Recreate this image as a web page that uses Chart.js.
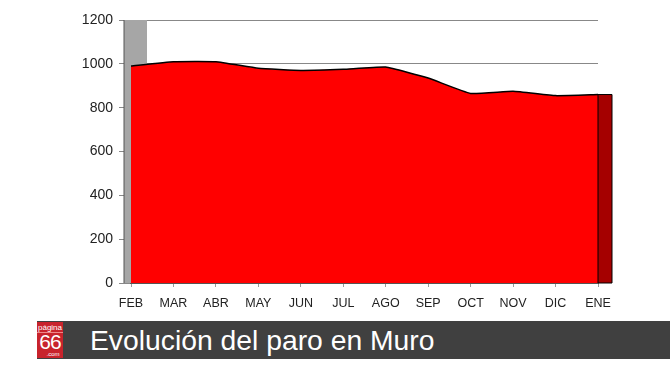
<!DOCTYPE html>
<html>
<head>
<meta charset="utf-8">
<script src="https://cdn.jsdelivr.net/npm/chart.js@4/dist/chart.umd.min.js"></script>
<style>
  html, body { margin: 0; padding: 0; background: #fff; }
  body { width: 670px; height: 377px; position: relative; overflow: hidden; font-family: "Liberation Sans", Arial, sans-serif; }
  #wrap { position: absolute; left: 0; top: 0; width: 670px; height: 320px; }
  #bar { position: absolute; left: 37px; top: 321px; width: 633px; height: 38px; background: #404040; }
  #logo { position: absolute; left: 0; top: 1px; width: 26px; height: 36px; background: #c8232c; color: #fff; text-align: center; }
  #logo .p { position: absolute; top: 1px; left: 0; width: 26px; font-size: 8px; line-height: 9px; border-bottom: 1px solid #e88; }
  #logo .n { position: absolute; top: 9px; left: 0; width: 26px; font-size: 21px; line-height: 21px; letter-spacing: -1px; }
  #logo .c { position: absolute; top: 29px; left: 6px; width: 20px; font-size: 6px; line-height: 6px; }
  #title { position: absolute; left: 53px; top: 2px; color: #fff; font-size: 28.3px; line-height: 34px; }
</style>
</head>
<body>
<div id="wrap"><canvas id="paro"></canvas></div>
<div id="bar">
  <div id="logo"><span class="p">página</span><span class="n">66</span><span class="c">.com</span></div>
  <div id="title">Evolución del paro en Muro</div>
</div>
<script>
const MONTHS = ['FEB', 'MAR', 'ABR', 'MAY', 'JUN', 'JUL', 'AGO', 'SEP', 'OCT', 'NOV', 'DIC', 'ENE']
const PARO = [990, 1010, 1010, 980, 970, 975, 985, 935, 865, 875, 855, 860]
const Y_TICKS = [0, 200, 400, 600, 800, 1000, 1200]

// fake 3d bits: grey side wall on the left, dark red end face on the right
const wall3d = {
  id: 'wall3d',
  beforeDatasetsDraw(chart) {
    const { ctx, chartArea } = chart
    ctx.save()
    ctx.fillStyle = '#a6a6a6'
    ctx.fillRect(chartArea.left - 7, chartArea.top, 23, chartArea.bottom - chartArea.top)
    ctx.strokeStyle = '#555'
    ctx.lineWidth = 1
    ctx.beginPath()
    ctx.moveTo(chartArea.left - 7, chartArea.top)
    ctx.lineTo(chartArea.left - 7, chartArea.bottom)
    ctx.stroke()
    ctx.restore()
  },
  afterDatasetsDraw(chart) {
    const { ctx, chartArea, scales } = chart
    const last = PARO.length - 1
    const x = scales.x.getPixelForValue(last)
    const y = scales.y.getPixelForValue(PARO[last])
    ctx.save()
    ctx.fillStyle = '#a50000'
    ctx.strokeStyle = '#000'
    ctx.lineWidth = 1
    ctx.beginPath()
    ctx.moveTo(x, y)
    ctx.lineTo(x + 14, y)
    ctx.lineTo(x + 14, chartArea.bottom)
    ctx.lineTo(x, chartArea.bottom)
    ctx.closePath()
    ctx.fill()
    ctx.stroke()
    ctx.restore()
  }
}

const paro = new Chart(document.getElementById('paro'), {
  type: 'line',
  plugins: [wall3d],
  data: {
    labels: MONTHS,
    datasets: [{
      label: 'Paro',
      data: PARO,
      fill: 'origin',
      backgroundColor: '#ff0000',
      borderColor: '#000',
      borderWidth: 1.5,
      tension: 0.12,
      pointRadius: 0,
    }]
  },
  options: {
    responsive: true,
    maintainAspectRatio: false,
    animation: false,
    layout: {
      padding: { top: 20, right: 72, bottom: 0, left: 0 }
    },
    plugins: {
      legend: { display: false },
      tooltip: { enabled: false },
    },
    scales: {
      x: {
        offset: false,
        afterFit: s => { s.height = 37 },
        grid: {
          drawOnChartArea: false,
          tickLength: 4,
          color: '#999',
        },
        border: { color: '#222', width: 1.5 },
        ticks: {
          color: '#222',
          padding: 9,
          font: { family: '"Liberation Sans", Arial, sans-serif', size: 12.5 },
        },
      },
      y: {
        min: 0,
        max: 1200,
        afterFit: s => { s.width = 131 },
        afterBuildTicks: s => { s.ticks = Y_TICKS.map(v => ({ value: v })) },
        grid: {
          color: '#888',
          tickLength: 12,
        },
        border: { display: false },
        ticks: {
          color: '#222',
          padding: 6,
          callback: v => String(v),
          font: { family: '"Liberation Sans", Arial, sans-serif', size: 14 },
        },
      },
    },
  }
})
</script>
</body>
</html>
